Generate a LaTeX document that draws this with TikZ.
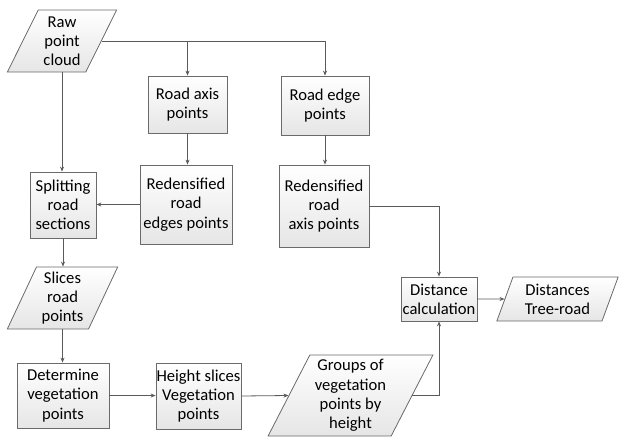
\documentclass[tikz,border=0pt]{standalone}
\usepackage{fontspec}
\setmainfont{Carlito}
\usetikzlibrary{shapes.geometric,arrows.meta}
\definecolor{linec}{HTML}{5A5A5A}
\definecolor{boxc}{HTML}{6A6A6A}
\begin{document}
\begin{tikzpicture}[x=1pt,y=-1pt,
  font=\fontsize{16.6}{19.2}\selectfont,
  box/.style={draw=boxc, line width=0.8pt, top color=white, bottom color=black!10,
    rectangle, inner sep=0pt, align=center, minimum width=#1},
  para/.style={draw=boxc, line width=0.8pt, top color=white, bottom color=black!10,
    trapezium, trapezium stretches=true, inner sep=0pt, align=center},
  arr/.style={draw=linec, line width=0.8pt, -{Stealth[length=5pt,width=4pt]}},
  ln/.style={draw=linec, line width=0.8pt}]
\useasboundingbox (0,0) rectangle (619,437);

\node[para, trapezium left angle=64, trapezium right angle=116, minimum width=110, minimum height=62] (raw) at (62,41) {Raw\\point\\cloud};
\node[box=79, minimum height=57] (roadaxis) at (187.5,104.5) {Road axis\\points};
\node[box=88, minimum height=59] (roadedge) at (325,105.5) {Road edge\\points};
\node[box=66, minimum height=66] (split) at (63,205) {Splitting\\road\\sections};
\node[box=92, minimum height=79] (redges) at (186,204.5) {Redensified\\road\\edges points};
\node[box=90, minimum height=82] (raxis) at (324,206) {Redensified\\road\\axis points};
\node[para, trapezium left angle=66, trapezium right angle=114, minimum width=111, minimum height=62] (slices) at (62.5,298) {Slices\\road\\points};
\node[box=76, minimum height=44] (dist) at (439,299) {Distance\\calculation};
\node[para, trapezium left angle=69, trapezium right angle=111, minimum width=122, minimum height=44] (dists) at (557.5,299) {Distances\\Tree-road};
\node[box=92, minimum height=65] (determ) at (63,395.5) {Determine\\vegetation\\points};
\node[box=85, minimum height=66] (height) at (198.5,396) {Height slices\\Vegetation\\points};
\node[para, trapezium left angle=63, trapezium right angle=117, minimum width=165, minimum height=81] (groups) at (350.5,395.5) {Groups of\\vegetation\\points by\\height};

\draw[arr] (raw.east) -| (roadedge.north);
\draw[arr] (raw.east -| roadaxis.north) -- (roadaxis.north);
\draw[arr] (raw.south) -- (raw.south |- split.north);
\draw[arr] (roadaxis.south) -- (roadaxis.south |- redges.north);
\draw[arr] (roadedge.south) -- (roadedge.south |- raxis.north);
\draw[arr] (redges.west) -- (redges.west -| split.east);
\draw[arr] (raxis.east) -| (dist.north);
\draw[arr] (split.south) -- (split.south |- slices.north);
\draw[arr] (slices.south) -- (slices.south |- determ.north);
\draw[arr] (determ.east) -- (determ.east -| height.west);
\draw[arr] (height.east) -- (groups.west);
\draw[arr] (groups.east) -| (dist.south);
\draw[arr] (dist.east) -- (dists.west);
\end{tikzpicture}
\end{document}
